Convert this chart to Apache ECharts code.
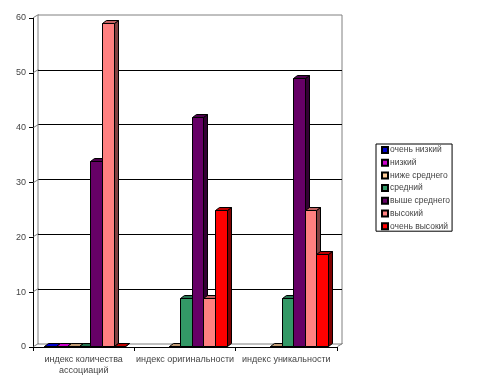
<!DOCTYPE html>
<html><head><meta charset="utf-8">
<style>html,body{margin:0;padding:0;background:#fff}#c{width:488px;height:386px}</style>
<script src="https://cdn.jsdelivr.net/npm/echarts@6/dist/echarts.min.js"></script>
</head><body><div id="c"></div>
<script>
const categories = ['индекс количества\nассоциаций', 'индекс оригинальности', 'индекс уникальности'];
const levels = ['очень низкий', 'низкий', 'ниже среднего', 'средний', 'выше среднего', 'высокий', 'очень высокий'];
const veryLow = [0, null, null];
const low = [0, null, null];
const belowAvg = [0, 0, 0];
const average = [0, 9, 9];
const aboveAvg = [34, 42, 49];
const high = [59, 9, 25];
const veryHigh = [0, 25, 17];
const yTicks = [0, 10, 20, 30, 40, 50, 60];
const front = ['#0000CC', '#CC00CC', '#FFCC99', '#339966', '#660066', '#FF8080', '#FF0000'];
const top3d = ['#0000CC', '#CC00CC', '#BF9973', '#267350', '#4D004D', '#BF6060', '#BF0000'];
const side = ['#000066', '#660066', '#80664D', '#1A4D33', '#330033', '#804040', '#800000'];
const allSeries = [veryLow, low, belowAvg, average, aboveAvg, high, veryHigh];
const dx = 4, dy = -3, wallDx = 5, wallDy = -3;

function renderBar(params, api) {
  const k = params.seriesIndex;
  const cat = api.value(0), v = api.value(1);
  const band = api.size([1, 0])[0];
  const w = band * 0.8 / 7;
  const base = api.coord([cat, 0]);
  const head = api.coord([cat, v]);
  const x0 = Math.round(base[0] - band * 0.4 + k * w) + 1.5;
  const x1 = Math.round(base[0] - band * 0.4 + (k + 1) * w) + 1.5;
  const yB = Math.round(base[1]) - 0.5;
  const yT = Math.min(Math.round(head[1]) + 0.5, yB);
  const st = (f) => ({ fill: f, stroke: '#000', lineWidth: 1 });
  return { type: 'group', children: [
    { type: 'polygon', shape: { points: [[x1, yT], [x1 + dx, yT + dy], [x1 + dx, yB + dy], [x1, yB]] }, style: st(side[k]) },
    { type: 'polygon', shape: { points: [[x0, yT], [x0 + dx, yT + dy], [x1 + dx, yT + dy], [x1, yT]] }, style: st(top3d[k]) },
    { type: 'rect', shape: { x: x0, y: yT, width: x1 - x0, height: yB - yT }, style: st(front[k]) }
  ] };
}
function renderWallEdge(params, api) {
  const v = api.value(0);
  const band = api.size([1, 0])[0];
  const first = api.coord([0, v]);
  const last = api.coord([categories.length - 1, v]);
  const y = Math.round(first[1]) - 0.5;
  const seg = (a) => ({ type: 'line', shape: { x1: a, y1: y, x2: a + wallDx, y2: y + wallDy }, style: { stroke: '#808080', lineWidth: 1 } });
  const children = [seg(Math.round(first[0] - band / 2) + 0.5)];
  if (v === 0) children.push(seg(Math.round(last[0] + band / 2) + 0.5));
  return { type: 'group', children };
}

const series = levels.map((name, k) => ({
  name, type: 'custom', xAxisIndex: 0, yAxisIndex: 0, z: 5,
  renderItem: renderBar, clip: false,
  itemStyle: { color: front[k], borderColor: '#000', borderWidth: 0.6 },
  encode: { x: 0, y: 1 },
  data: allSeries[k].map((v, i) => v === null ? [i, '-'] : [i, v])
}));
series.push({
  type: 'custom', name: 'walls', xAxisIndex: 0, yAxisIndex: 0, z: 1, clip: false,
  renderItem: renderWallEdge,
  encode: { y: 0 },
  data: yTicks.map(v => [v])
});

const chart = echarts.init(document.getElementById('c'), null, { renderer: 'canvas' });
chart.setOption({
  animation: false,
  backgroundColor: '#fff',
  textStyle: { fontFamily: '"Liberation Sans", Arial, sans-serif' },
  legend: {
    orient: 'vertical', left: 376, top: 144, data: levels,
    itemWidth: 6, itemHeight: 6, itemGap: 2.7, padding: [1, 2, 0, 5],
    borderColor: '#000', borderWidth: 1, align: 'left', selectedMode: false,
    icon: 'rect', textStyle: { fontSize: 8.5, color: '#444', padding: [0, 0, 0, -3], lineHeight: 10 }
  },
  grid: [
    { left: 33, top: 18, width: 304, height: 329 },
    { left: 38, top: 15, width: 304, height: 329, show: true, borderColor: '#808080', borderWidth: 1, backgroundColor: '#fff' }
  ],
  xAxis: [
    { type: 'category', gridIndex: 0, data: categories,
      axisLine: { lineStyle: { color: '#000' } },
      axisTick: { show: true, length: 4, lineStyle: { color: '#000' } },
      axisLabel: { fontSize: 9, color: '#444', margin: 7, interval: 0, lineHeight: 11 } },
    { type: 'category', gridIndex: 1, data: categories, show: false }
  ],
  yAxis: [
    { type: 'value', gridIndex: 0, min: 0, max: 60, interval: 10,
      axisLine: { show: true, lineStyle: { color: '#000' } },
      axisTick: { show: true, length: 4, lineStyle: { color: '#000' } },
      axisLabel: { fontSize: 9, color: '#444', margin: 7 },
      splitLine: { show: false } },
    { type: 'value', gridIndex: 1, min: 0, max: 60, interval: 10,
      axisLine: { show: false }, axisTick: { show: false }, axisLabel: { show: false },
      splitLine: { show: true, showMinLine: false, showMaxLine: false, lineStyle: { color: '#000', width: 1 } } }
  ],
  series
});
</script></body></html>
